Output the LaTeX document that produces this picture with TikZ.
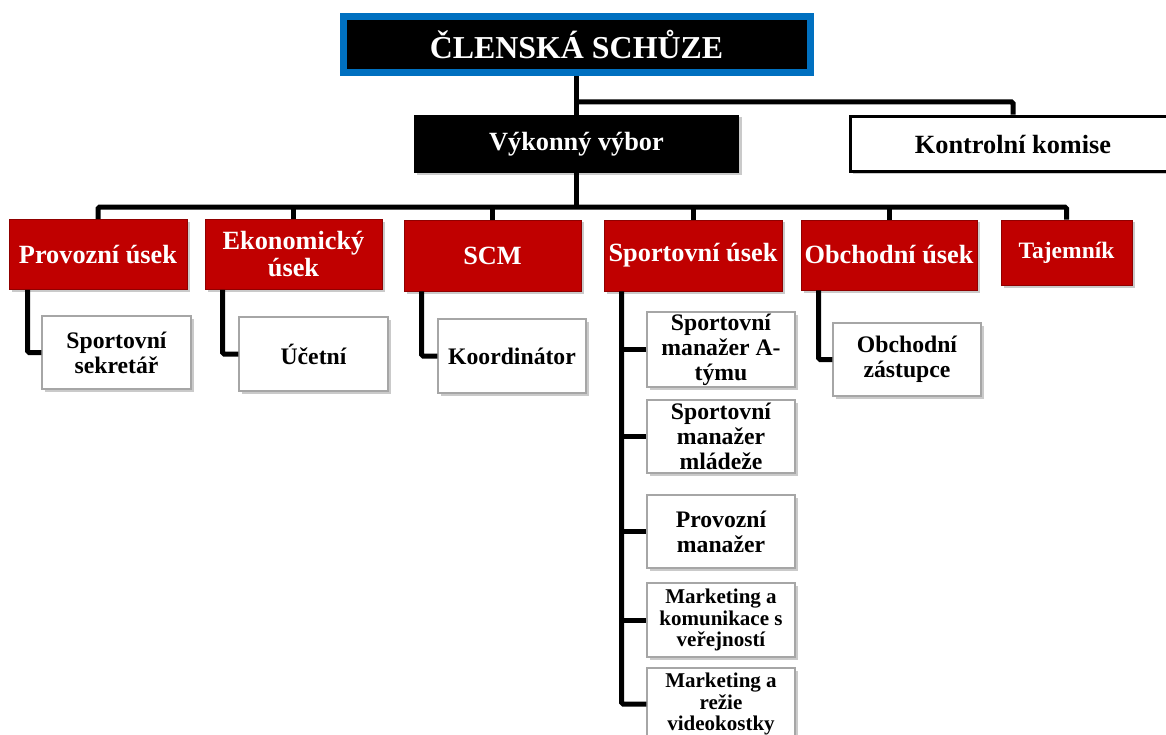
\documentclass[tikz,border=0pt]{standalone}
\usepackage{fontspec}
\setmainfont{Liberation Serif}
\usetikzlibrary{shadows,calc}
\definecolor{cred}{HTML}{C00000}
\definecolor{cblue}{HTML}{0070C0}
\begin{document}
\begin{tikzpicture}[x=1pt,y=-1pt,
  box/.style={rectangle, inner sep=0pt, align=center},
  shad/.style={drop shadow={shadow xshift=2.5pt, shadow yshift=-2.5pt, opacity=0.35, fill=black!60}},
  topbox/.style={box, shad, font=\fontsize{26.3}{27}\selectfont\bfseries},
  redbox/.style={box, shad, fill=cred, draw=cred!75!black, line width=0.8pt, text=white, minimum height=70pt, font=\fontsize{26.3}{27}\selectfont\bfseries},
  childbox/.style={box, shad, fill=white, draw=black!35, line width=1.3pt, minimum width=148pt, font=\fontsize{23.7}{25}\selectfont\bfseries},
  smallchild/.style={childbox, font=\fontsize{21}{21.5}\selectfont\bfseries},
  conn/.style={line width=5pt, black, rounded corners=1.5pt}
]
\useasboundingbox (0,0) rectangle (1166,735);
\clip (0,0) rectangle (1166,735);

% top level
\node[box, shad, fill=black, draw=cblue, line width=7pt, text=white,
      minimum width=467pt, minimum height=56pt,
      font=\fontsize{31.9}{33}\selectfont\bfseries] (title) at (576.5,44.5) {ČLENSKÁ SCHŮZE};
\node[topbox, fill=black, text=white, minimum width=325pt, minimum height=58pt] (vv) at (576.5,144) {Výkonný výbor};
\node[topbox, fill=white, draw=black, line width=3.5pt, minimum width=325pt, minimum height=55pt] (kk) at (1013,144) {Kontrolní komise};

% departments
\node[redbox, minimum width=178pt] (p1) at (98,254.5) {Provozní úsek};
\node[redbox, minimum width=177pt] (p2) at (293.5,254.5) {Ekonomický\\úsek};
\node[redbox, minimum width=177pt, minimum height=71pt] (p3) at (492.5,255.5) {SCM};
\node[redbox, minimum width=178pt, minimum height=71pt] (p4) at (693,255.5) {Sportovní úsek};
\node[redbox, minimum width=176pt] (p5) at (889,255) {Obchodní úsek};
\node[redbox, minimum width=131pt, minimum height=65pt, font=\fontsize{23.5}{25}\selectfont\bfseries] (p6) at (1066.5,252.5) {Tajemník};

% children
\node[childbox, minimum width=149pt, minimum height=73pt] (c1) at (116.5,352.5) {Sportovní\\sekretář};
\node[childbox, minimum width=149pt, minimum height=74pt] (c2) at (313.5,354) {Účetní};
\node[childbox, minimum height=74pt] (c3) at (512,356) {Koordinátor};
\node[childbox, minimum height=73pt] (c5) at (907,359.5) {Obchodní\\zástupce};

\node[childbox, minimum height=75pt] (s1) at (721,349.5) {Sportovní\\manažer A-\\týmu};
\node[childbox, minimum height=73pt] (s2) at (721,436.5) {Sportovní\\manažer\\mládeže};
\node[childbox, minimum height=73pt] (s3) at (721,531.5) {Provozní\\manažer};
\node[smallchild, minimum height=74pt] (s4) at (721,620) {Marketing a\\komunikace s\\veřejností};
\node[smallchild, minimum height=72pt] (s5) at (721,704) {Marketing a\\režie\\videokostky};

% connectors
\path (title.south) ++(0,26) coordinate (j1);
\path (vv.south) ++(0,34) coordinate (j2);
\draw[conn] (title.south) -- (vv.north);
\draw[conn] (j1) -| (kk.north);
\draw[conn] (vv.south) -- (j2);
\draw[conn] (p1.north) |- (j2) -| (p6.north);
\foreach \p in {p2,p3,p4,p5} \draw[conn] (\p.north) -- (\p.north |- j2);

\draw[conn] ([xshift=19pt]p1.south west) |- (c1.west);
\draw[conn] ([xshift=18pt]p2.south west) |- (c2.west);
\draw[conn] ([xshift=18pt]p3.south west) |- (c3.west);
\draw[conn] ([xshift=18pt]p5.south west) |- (c5.west);

\coordinate (col) at ([xshift=18pt]p4.south west);
\draw[conn] (col) |- (s5.west);
\foreach \s in {s1,s2,s3,s4} \draw[conn] (col |- \s.west) -- (\s.west);
\end{tikzpicture}
\end{document}
